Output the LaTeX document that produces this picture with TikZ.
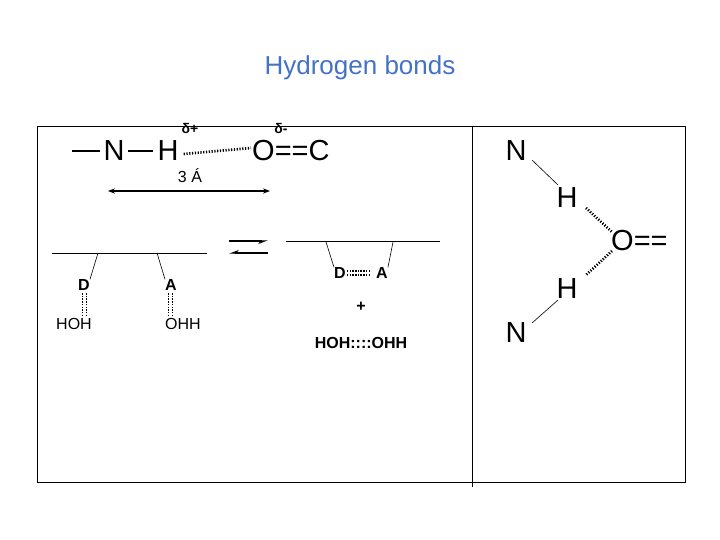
\documentclass[tikz,border=0pt]{standalone}
\usepackage{fontspec}
\setmainfont{Liberation Sans}
\usetikzlibrary{arrows.meta}
\definecolor{titleblue}{RGB}{68,114,196}
\begin{document}
\begin{tikzpicture}[x=1pt,y=-1pt,
  big/.style={font=\fontsize{29}{29}\selectfont,inner sep=0pt},
  mid/.style={font=\fontsize{16}{16}\selectfont,inner sep=0pt},
  midb/.style={font=\bfseries\fontsize{16}{16}\selectfont,inner sep=0pt},
  hb/.style={line width=2.6pt,dash pattern=on 1.2pt off 1.6pt},
  thin/.style={line width=0.6pt}]
\useasboundingbox (0,0) rectangle (720,540);
\node[font=\fontsize{26}{26}\selectfont,text=titleblue] (title) at (360,68) {Hydrogen bonds};
\draw[thin] (37,126) rectangle (685,482);
\coordinate (dv1) at (472,126); \coordinate (dv2) at (472,487);
\draw[thin] (dv1) -- (dv2);
% top left
\coordinate (b1) at (72,151); \coordinate (b2) at (100,151);
\draw[line width=2pt] (b1) -- (b2);
\node[big] (n1) at (114,151) {N};
\coordinate (b3) at (128,151); \coordinate (b4) at (153,151);
\draw[line width=2pt] (b3) -- (b4);
\node[big] (h1) at (168,151) {H};
\node[big,anchor=west] (oc) at (252,151) {O==C};
\draw[hb] (h1.east)++(5,3) -- ([yshift=3pt,xshift=-1pt]oc.west);
\node[midb,font=\bfseries\fontsize{14}{14}\selectfont] (dp) at (190,128) {δ+};
\node[midb,font=\bfseries\fontsize{14}{14}\selectfont] (dm) at (281,128) {δ-};
\node[mid] (ang) at (190,176) {3 Á};
\coordinate (a1) at (108,191); \coordinate (a2) at (270,191);
\draw[line width=1.2pt,{Stealth[length=7pt]}-{Stealth[length=7pt]}] (a1) -- (a2);
% lower left
\coordinate (s1) at (52,253); \coordinate (s2) at (207,253);
\draw[thin] (s1) -- (s2);
\node[midb] (D1) at (84,285) {D};
\node[midb] (A1) at (171,285) {A};
\draw[thin] (98,253) -- (D1.north east);
\draw[thin] (157,253) -- (A1.north west);
\node[mid] (hoh) at (74,324) {HOH};
\node[mid] (ohh) at (183,324) {OHH};
\foreach \x in {82.5,86.5}{\draw[line width=1.5pt,dash pattern=on 1.5pt off 1.2pt] (\x,293) -- (\x,317);}
\foreach \x in {168.5,172.5}{\draw[line width=1.5pt,dash pattern=on 1.5pt off 1.2pt] (\x,293) -- (\x,317);}
% equilibrium
\coordinate (e1) at (229,241); \coordinate (e2) at (268,241);
\coordinate (e3) at (268,253); \coordinate (e4) at (229,253);
\draw[line width=1.4pt,-{Stealth[length=8pt,right]}] (e1) -- (e2);
\draw[line width=1.4pt,-{Stealth[length=8pt,right]}] (e3) -- (e4);
% lower middle
\coordinate (t1) at (286,241); \coordinate (t2) at (440,241);
\draw[thin] (t1) -- (t2);
\node[midb] (D2) at (340,273) {D};
\node[midb] (A2) at (382,273) {A};
\draw[thin] (326,242) -- (D2.north west);
\draw[thin] (393,242) -- (A2.north east);
\foreach \y in {271,275}{\draw[line width=1.5pt,dash pattern=on 1.5pt off 1.2pt] (D2.east|-0,\y) ++(1,0) -- ++(22,0);}
\node[midb] (plus) at (361,307) {+};
\node[midb] (hh) at (361,343) {HOH::::OHH};
% right
\node[big] (N2) at (516,151) {N};
\node[big] (H2) at (567,198) {H};
\node[big,anchor=west] (O2) at (611,241) {O==};
\node[big] (H3) at (567,289) {H};
\node[big] (N3) at (516,333) {N};
\draw[thin] (532,160) -- (558,185);
\draw[thin] (558,300) -- (532,323);
\draw[hb] (586,208) -- (612,232);
\draw[hb] (612,251) -- (586,275);
\end{tikzpicture}
\end{document}
